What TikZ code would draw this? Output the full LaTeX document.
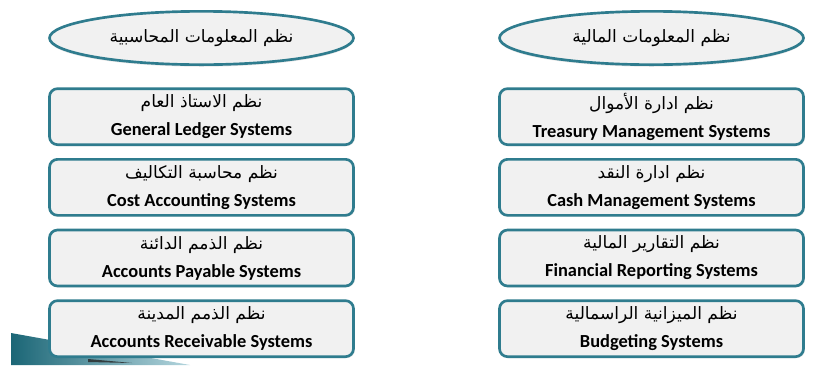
\documentclass[tikz,border=0pt]{standalone}
\usepackage{fontspec}
\setmainfont{Carlito}
\newfontfamily\arabicfont[Script=Arabic]{DejaVu Sans}
\TeXXeTstate=1
\usetikzlibrary{positioning, shapes.geometric, shadows}
\definecolor{tealline}{HTML}{2F7C8E}
\definecolor{boxfill}{HTML}{F1F1F1}
\definecolor{wedgedark}{HTML}{1B6676}
\definecolor{wedgelight}{HTML}{B5D6DE}
\newcommand{\artext}[1]{{\arabicfont\fontsize{12.8}{21}\selectfont\beginR #1\endR}}

\begin{document}
\begin{tikzpicture}[
  x=0.75pt, y=-0.75pt,
  node distance=9pt,
  sysbox/.style={draw=tealline, line width=2pt, rounded corners=6pt, fill=boxfill,
                 minimum width=228pt, minimum height=42pt, inner sep=0pt, align=center,
                 font=\bfseries\fontsize{13.8}{21}\selectfont,
                 drop shadow={opacity=0.2, shadow xshift=1pt, shadow yshift=-1pt}},
  group/.style={ellipse, draw=tealline, line width=2pt, fill=boxfill,
                minimum width=228pt, minimum height=40pt, inner sep=0pt,
                drop shadow={opacity=0.2, shadow xshift=0pt, shadow yshift=-1.5pt}}
]
\useasboundingbox (0,0) rectangle (813,365);

% corner wedge
\shade[left color=wedgedark, right color=wedgelight] (11,333) -- (190,365) -- (11,365) -- cycle;
\fill[black!85, opacity=0.8] (88,359) -- (132,363) -- (88,362) -- cycle;

% accounting side
\node[group] (acc) at (201.5,38) {\artext{نظم المعلومات المحاسبية}};
\node[sysbox, below=16pt of acc] (gl) {\artext{\mdseries نظم الاستاذ العام}\\General Ledger Systems};
\node[sysbox, below=of gl] (ca) {\artext{\mdseries نظم محاسبة التكاليف}\\Cost Accounting Systems};
\node[sysbox, below=of ca] (ap) {\artext{\mdseries نظم الذمم الدائنة}\\Accounts Payable Systems};
\node[sysbox, below=of ap] (ar) {\artext{\mdseries نظم الذمم المدينة}\\Accounts Receivable Systems};

% financial side
\node[group] (fin) at (651.5,38) {\artext{نظم المعلومات المالية}};
\node[sysbox, below=16pt of fin] (tm) {\artext{\mdseries نظم ادارة الأموال}\\Treasury Management Systems};
\node[sysbox, below=of tm] (cm) {\artext{\mdseries نظم ادارة النقد}\\Cash Management Systems};
\node[sysbox, below=of cm] (fr) {\artext{\mdseries نظم التقارير المالية}\\Financial Reporting Systems};
\node[sysbox, below=of fr] (bs) {\artext{\mdseries نظم الميزانية الراسمالية}\\Budgeting Systems};
\end{tikzpicture}
\end{document}
